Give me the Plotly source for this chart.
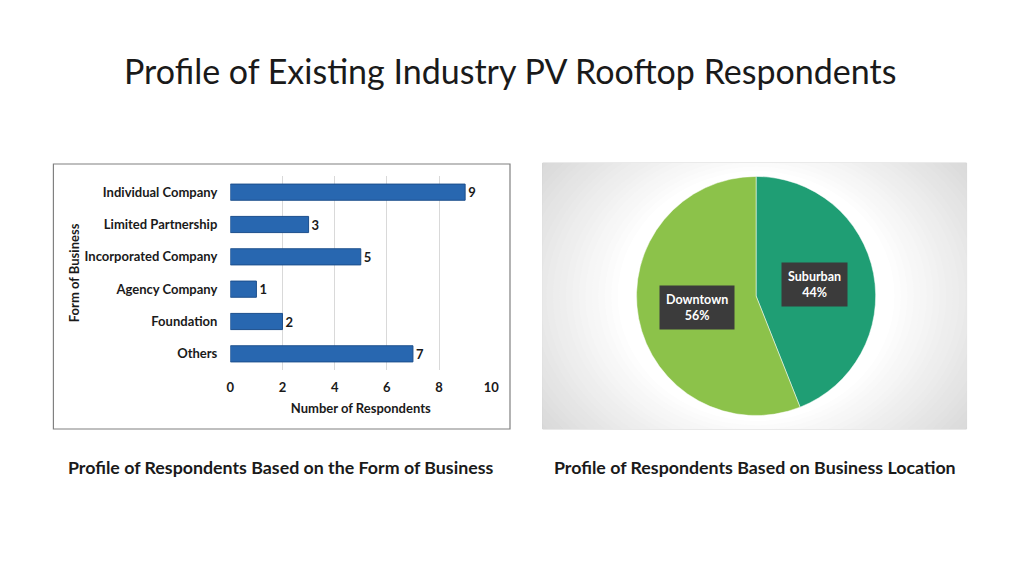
import math
import plotly.graph_objects as go

# bar chart data
business_forms = ['Individual Company', 'Limited Partnership', 'Incorporated Company',
                  'Agency Company', 'Foundation', 'Others']
respondents = [9, 3, 5, 1, 2, 7]
x_ticks = [0, 2, 4, 6, 8, 10]

# pie chart data
locations = ['Suburban', 'Downtown']
location_share = [44, 56]
pie_colors = ['#1F9E74', '#8CC24A']

W, H = 1024, 576
FONT = 'Lato'
TXT = '#1A1A1A'


def px_x(x):
    return x / W


def px_y(y):
    return 1 - y / H


fig = go.Figure()

fig.add_trace(go.Bar(
    x=respondents, y=business_forms, orientation='h',
    marker=dict(color='#2867B0', line=dict(color='#1C4F8C', width=1)),
    texttemplate='%{x}', textposition='outside', cliponaxis=False,
    textfont=dict(family=FONT, size=13, color=TXT, weight='bold'),
    width=0.5, xaxis='x', yaxis='y', showlegend=False, hoverinfo='x+y',
))

fig.add_trace(go.Pie(
    labels=locations, values=location_share, sort=False, direction='clockwise',
    rotation=0, marker=dict(colors=pie_colors, line=dict(color='white', width=0.5)),
    textinfo='none', hoverinfo='label+percent', showlegend=False,
    domain=dict(x=[px_x(640), px_x(882)], y=[px_y(417), px_y(175)]),
))

# pie labels in dark boxes, at half radius along the middle of each slice
cx, cy, r = 761, 296, 121
start = 0
total = sum(location_share)
for name, val in zip(locations, location_share):
    mid = (start + val / 2) / total * 2 * math.pi
    start += val
    lx = cx + 0.5 * r * math.sin(mid)
    ly = cy - 0.5 * r * math.cos(mid)
    fig.add_annotation(
        x=px_x(lx), y=px_y(ly), xref='paper', yref='paper', showarrow=False,
        xanchor='center', yanchor='middle',
        text=f'<b>{name}<br>{val}%</b>', align='center',
        font=dict(family=FONT, size=12.5, color='white'),
        bgcolor='#3B3B3B', borderpad=6,
    )

shapes = [
    # left panel frame
    dict(type='rect', xref='paper', yref='paper', x0=px_x(50), x1=px_x(512),
         y0=px_y(429), y1=px_y(164), line=dict(color='#808080', width=1.2), layer='below'),
    # right panel background
    dict(type='rect', xref='x2', yref='y2', x0=545, x1=974, y0=429, y1=163,
         line=dict(width=0), fillcolor='#CBCBCB', layer='below'),
]
# radial gradient approximation, clipped by the hidden x2/y2 subplot
steps = 30
for i in range(steps):
    t = i / (steps - 1)
    rx = 330 * (1 - t) + 140 * t
    ry = 250 * (1 - t) + 125 * t
    g = int(0xCB + (0xFF - 0xCB) * t)
    shapes.append(dict(type='circle', xref='x2', yref='y2',
                       x0=cx - rx, x1=cx + rx, y0=cy + ry, y1=cy - ry,
                       line=dict(width=0), fillcolor=f'rgb({g},{g},{g})', layer='below'))
shapes.append(dict(type='rect', xref='paper', yref='paper', x0=px_x(545), x1=px_x(974),
                   y0=px_y(429), y1=px_y(163), line=dict(color='#D4D4D4', width=1),
                   layer='below'))
fig.update_layout(shapes=shapes)

fig.add_annotation(x=0.5, y=px_y(70), xref='paper', yref='paper', showarrow=False,
                   xanchor='center', yanchor='middle',
                   text='Profile of Existing Industry PV Rooftop Respondents',
                   font=dict(family=FONT, size=34, color=TXT))
fig.add_annotation(x=px_x(280), y=px_y(467), xref='paper', yref='paper', showarrow=False,
                   xanchor='center', yanchor='middle',
                   text='<b>Profile of Respondents Based on the Form of Business</b>',
                   font=dict(family=FONT, size=17.8, color=TXT))
fig.add_annotation(x=px_x(760), y=px_y(467), xref='paper', yref='paper', showarrow=False,
                   xanchor='center', yanchor='middle',
                   text='<b>Profile of Respondents Based on Business Location</b>',
                   font=dict(family=FONT, size=17.8, color=TXT))
fig.add_annotation(x=px_x(71), y=px_y(273), xref='paper', yref='paper', showarrow=False,
                   xanchor='center', yanchor='middle',
                   text='<b>Form of Business</b>', textangle=-90,
                   font=dict(family=FONT, size=13, color=TXT))

fig.update_layout(
    width=W, height=H, margin=dict(l=0, r=0, t=0, b=0),
    paper_bgcolor='white', plot_bgcolor='rgba(0,0,0,0)',
    xaxis=dict(domain=[px_x(229), px_x(493)], range=[0, 10], tickvals=x_ticks,
               showgrid=True, gridcolor='#D9D9D9', gridwidth=1, zeroline=False,
               showline=False, ticks='', ticklabelstandoff=8,
               tickfont=dict(family=FONT, size=13, color=TXT, weight='bold'),
               title=dict(text='<b>Number of Respondents</b>', standoff=9,
                          font=dict(family=FONT, size=13, color=TXT)),
               fixedrange=True, anchor='y'),
    yaxis=dict(domain=[px_y(370), px_y(176)], autorange='reversed',
               showgrid=False, zeroline=False, showline=False, ticks='',
               ticklabelstandoff=12, anchor='x', fixedrange=True,
               tickfont=dict(family=FONT, size=13, color=TXT, weight='bold')),
    xaxis2=dict(domain=[px_x(545), px_x(974)], range=[545, 974], visible=False,
                anchor='y2', fixedrange=True),
    yaxis2=dict(domain=[px_y(429), px_y(163)], range=[429, 163], visible=False,
                anchor='x2', fixedrange=True),
    bargap=0.5,
)

fig.write_html('out.html', config={'displayModeBar': False},
               post_script="document.body.style.margin='0';")
